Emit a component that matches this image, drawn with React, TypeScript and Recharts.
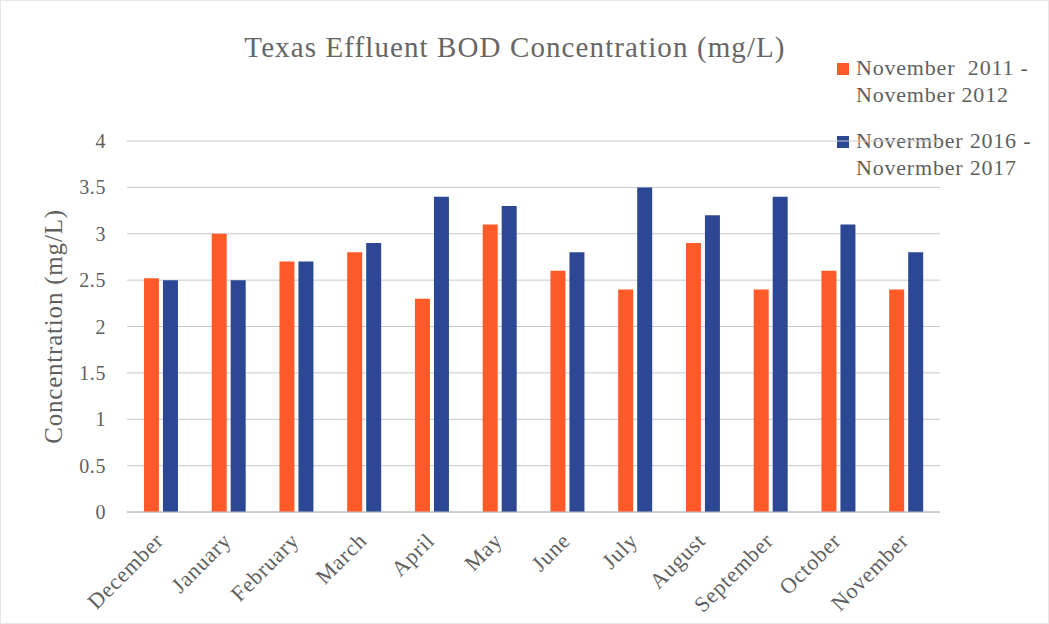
import { BarChart, Bar, XAxis, YAxis, CartesianGrid } from 'recharts';

const months = ['December', 'January', 'February', 'March', 'April', 'May', 'June', 'July', 'August', 'September', 'October', 'November'];
const period2011 = [2.52, 3.0, 2.7, 2.8, 2.3, 3.1, 2.6, 2.4, 2.9, 2.4, 2.6, 2.4];
const period2016 = [2.5, 2.5, 2.7, 2.9, 3.4, 3.3, 2.8, 3.5, 3.2, 3.4, 3.1, 2.8];
const yTicks = [0, 0.5, 1, 1.5, 2, 2.5, 3, 3.5, 4];

const seriesNames = ['November  2011 - November 2012', 'Novermber 2016 - Novermber 2017'];
const legendLines = [['November  2011 -', 'November 2012'], ['Novermber 2016 -', 'Novermber 2017']];

const ORANGE = '#FF5A27';
const BLUE = '#2C4894';
const TEXT = '#5f5f5f';
const FONT = '"Liberation Serif", "DejaVu Serif", serif';

const chartData = months.map((m, i) => ({
  month: m,
  a: period2011[i],
  b: period2016[i],
}));

const MonthTick = (props: any) => {
  const { x, y, payload } = props;
  return (
    <text
      x={x + 4}
      y={y + 22}
      transform={`rotate(-45, ${x + 4}, ${y + 22})`}
      textAnchor="end"
      fill={TEXT}
      fontSize={22}
      letterSpacing={0.8}
      fontFamily={FONT}
    >
      {payload.value}
    </text>
  );
};

// legend drawn beside the chart so it doesn't shrink the plot
const SideLegend = () => (
  <div
    style={{
      position: 'absolute',
      left: 836,
      top: 53,
      fontFamily: FONT,
      color: TEXT,
      fontSize: 22,
      letterSpacing: 0.8,
      lineHeight: '27px',
    }}
  >
    {legendLines.map((lines, i) => (
      <div key={seriesNames[i]} style={{ display: 'flex', marginBottom: i === 0 ? 19 : 0 }}>
        <div
          style={{
            width: 12,
            height: 12,
            background: i === 0 ? ORANGE : BLUE,
            marginTop: 9,
            marginRight: 7,
          }}
        />
        <div>
          {lines.map((l) => (
            <div key={l} style={{ whiteSpace: 'pre' }}>{l}</div>
          ))}
        </div>
      </div>
    ))}
  </div>
);

export default function App() {
  return (
    <div
      style={{
        position: 'absolute',
        left: 0,
        top: 0,
        width: 1049,
        height: 624,
        background: '#fff',
        boxSizing: 'border-box',
        border: '1px solid #e6e6e6',
      }}
    >
      <div
        style={{
          position: 'absolute',
          left: 214,
          top: 30,
          width: 600,
          textAlign: 'center',
          fontFamily: FONT,
          fontSize: 29,
          letterSpacing: 1.1,
          color: '#666',
          whiteSpace: 'nowrap',
        }}
      >
        Texas Effluent BOD Concentration (mg/L)
      </div>
      <SideLegend />
      <BarChart
        width={1049}
        height={624}
        data={chartData}
        margin={{ top: 140, right: 110, bottom: 13, left: 0 }}
        barGap={4}
        barCategoryGap="25%"
      >
        <CartesianGrid vertical={false} stroke="#c5c8d0" strokeWidth={1} />
        <XAxis
          dataKey="month"
          height={100}
          interval={0}
          tick={<MonthTick />}
          tickLine={false}
          axisLine={{ stroke: '#b8bcc4' }}
        />
        <YAxis
          width={126}
          domain={[0, 4]}
          ticks={yTicks}
          tickSize={0}
          tickMargin={21}
          axisLine={false}
          tickLine={false}
          tick={{ fill: TEXT, fontSize: 20, fontFamily: FONT, letterSpacing: 0.6 }}
          label={{
            value: 'Concentration (mg/L)',
            angle: -90,
            position: 'insideLeft',
            offset: 52,
            style: { textAnchor: 'middle', fill: TEXT, fontSize: 25, letterSpacing: 0.8, fontFamily: FONT },
          }}
        />
        <Bar dataKey="a" name={seriesNames[0]} fill={ORANGE} isAnimationActive={false} />
        <Bar dataKey="b" name={seriesNames[1]} fill={BLUE} isAnimationActive={false} />
      </BarChart>
    </div>
  );
}
